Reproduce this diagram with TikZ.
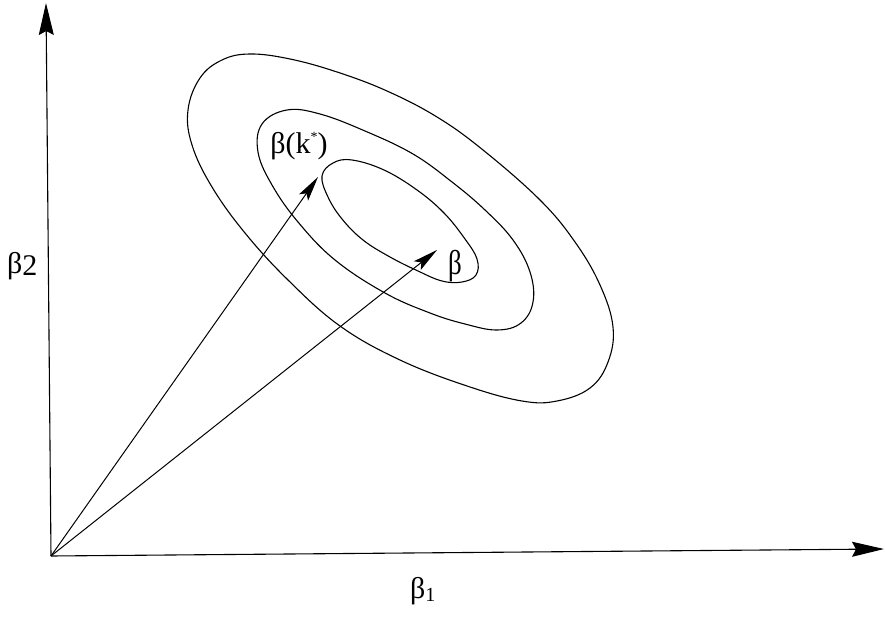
\documentclass[tikz,border=0pt]{standalone}
\usepackage{fontspec}
\newfontfamily\grfont{Liberation Serif}
\usetikzlibrary{arrows.meta}
\tikzset{
  contour/.style={line width=1.1pt, black},
  axisline/.style={line width=1.1pt, -{Stealth[length=32pt,width=15pt,inset=4pt]}},
  vec/.style={line width=1pt, -{Stealth[length=25pt,width=11pt,inset=5pt]}},
  lbl/.style={font=\grfont\fontsize{30}{34}\selectfont, inner sep=0pt}
}
\begin{document}
\begin{tikzpicture}[x=1pt,y=-1pt]
\fill[white] (0,0) rectangle (885,617);
\useasboundingbox (0,0) rectangle (885,617);
% axes
\coordinate (O) at (51,556);
\coordinate (ytip) at (46,3);
\coordinate (xtip) at (884,549);
\draw[axisline] (O) -- (ytip);
\draw[axisline] (O) -- (xtip);
% outer contour
\draw[contour] plot[smooth cycle, tension=0.65] coordinates {
 (250,54) (290,59) (337,72) (387,91) (437,117) (483,150) (540,200) (575,242)
 (600,285) (613,327) (608,362) (590,388) (557,401) (522,401) (467,386) (400,360)
 (340,326) (288,280) (245,233) (212,187) (192,145) (188,110) (200,78) (222,60)};
% middle contour
\draw[contour] plot[smooth cycle, tension=0.65] coordinates {
 (262,124) (287,110) (320,114) (365,131) (413,154) (452,182) (485,210) (513,240)
 (530,272) (533,302) (521,323) (497,330) (465,324) (430,313) (385,293) (335,260)
 (298,222) (272,185) (258,152)};
% inner contour
\draw[contour] plot[smooth cycle, tension=0.65] coordinates {
 (322,176) (333,163) (352,160) (384,170) (417,190) (444,213) (465,239) (477,259)
 (476,275) (462,282) (442,281) (418,271) (390,257) (363,240) (342,219) (328,197)};
% vectors
\coordinate (bk) at (318,177);
\coordinate (bh) at (437,250);
\draw[vec] (O) -- (bk);
\draw[vec] (O) -- (bh);
% labels
\node[lbl] (Lbk) at (299,146) {β(k\raisebox{0.4em}{\fontsize{14}{16}\selectfont *})};
\node[lbl, yscale=1.15, xscale=0.9] (Lb) at (455,266) {β};
\node[lbl, anchor=west] (Lb2) at (7,266) {β\raisebox{-0.08em}{2}};
\node[lbl, anchor=west] (Lb1) at (410,591) {β\raisebox{-0.12em}{\fontsize{20}{22}\selectfont 1}};
\end{tikzpicture}
\end{document}
